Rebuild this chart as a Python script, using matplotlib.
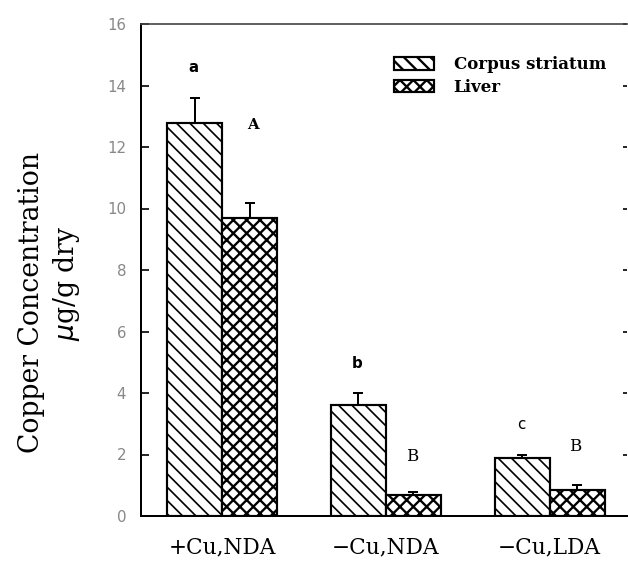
import matplotlib
matplotlib.use("Agg")
import matplotlib.pyplot as plt
import numpy as np

# ---- data ----
groups = ["+Cu,NDA", "\u2212Cu,NDA", "\u2212Cu,LDA"]
striatum = [12.79, 3.60, 1.88]
striatum_err = [0.81, 0.39, 0.12]
liver = [9.69, 0.68, 0.85]
liver_err = [0.50, 0.09, 0.16]
striatum_letters = ["a", "b", "c"]
striatum_letter_y = [14.6, 4.97, 2.96]
liver_letters = ["A", "B", "B"]
liver_letter_y = [12.7, 1.93, 2.25]
yticks = [0, 2, 4, 6, 8, 10, 12, 14, 16]

DPI = 120
fig = plt.figure(figsize=(628 / DPI, 561 / DPI), dpi=DPI)
ax = fig.add_axes([141 / 628, 45 / 561, 486 / 628, 492 / 561])

x = np.arange(len(groups))
w = 0.336

plt.rcParams['hatch.linewidth'] = 1.0
b1 = ax.bar(x - w / 2, striatum, w, color="white", edgecolor="black",
            linewidth=1.3, hatch="\\\\\\", label="Corpus striatum")
plt.rcParams['hatch.linewidth'] = 1.4
b2 = ax.bar(x + w / 2, liver, w, color="white", edgecolor="black",
            linewidth=1.3, hatch="xxx", label="Liver")
for p in b1:
    try:
        p.set_hatch_linewidth(1.0)
    except Exception:
        pass
for p in b2:
    try:
        p.set_hatch_linewidth(1.4)
    except Exception:
        pass

ax.errorbar(x - w / 2, striatum, yerr=[np.zeros(3), striatum_err], fmt="none",
            ecolor="black", elinewidth=1.2, capsize=3, capthick=1.2)
ax.errorbar(x + w / 2, liver, yerr=[np.zeros(3), liver_err], fmt="none",
            ecolor="black", elinewidth=1.2, capsize=3, capthick=1.2)

for i in range(3):
    ax.text(x[i] - w / 2 - 0.005, striatum_letter_y[i], striatum_letters[i],
            ha="center", va="center", fontsize=9,
            fontweight="bold" if i < 2 else "normal", family="DejaVu Sans")
    if i == 0:
        ax.text(x[i] + w / 2 + 0.02, liver_letter_y[i], liver_letters[i],
                ha="center", va="center", fontsize=9, fontweight="bold",
                family="DejaVu Serif")
    else:
        ax.text(x[i] + w / 2 - 0.01, liver_letter_y[i], liver_letters[i],
                ha="center", va="center", fontsize=10, family="DejaVu Serif")

ax.set_xlim(-0.495, 2.473)
ax.set_ylim(0, 16)
ax.set_yticks(yticks)
ax.set_yticklabels([str(t) for t in yticks], color="#888888",
                   fontsize=9, family="DejaVu Sans")
ax.tick_params(axis="y", which="major", left=True, right=False,
               direction="in", length=5, width=1, pad=9)
sec = ax.secondary_yaxis("right")
sec.set_yticks(yticks)
sec.tick_params(direction="in", length=2.5, width=1, labelright=False)
sec.spines["right"].set_visible(False)
ax.set_xticks(x)
ax.set_xticklabels(groups, fontsize=13, family="DejaVu Serif")
ax.tick_params(axis="x", length=0, pad=12)
ax.spines["right"].set_visible(False)
ax.spines["top"].set_linewidth(1.0)
ax.spines["top"].set_color("#444444")
ax.spines["left"].set_linewidth(1.2)
ax.spines["bottom"].set_linewidth(1.2)

fig.text(32 / 628, 1 - 302 / 561, "Copper Concentration", rotation=90,
         ha="center", va="center", fontsize=16, family="DejaVu Serif")
fig.text(66 / 628, 1 - 283 / 561, r"$\mu$g/g dry", rotation=90,
         ha="center", va="center", fontsize=16, family="DejaVu Serif")

leg = ax.legend(loc="upper left", bbox_to_anchor=(0.52, 0.935), frameon=False,
                borderpad=0, borderaxespad=0, handlelength=2.4,
                handleheight=0.8, handletextpad=1.2, labelspacing=0.35,
                prop={"family": "DejaVu Serif", "weight": "bold", "size": 10})

fig.savefig("out.png", dpi=DPI)
